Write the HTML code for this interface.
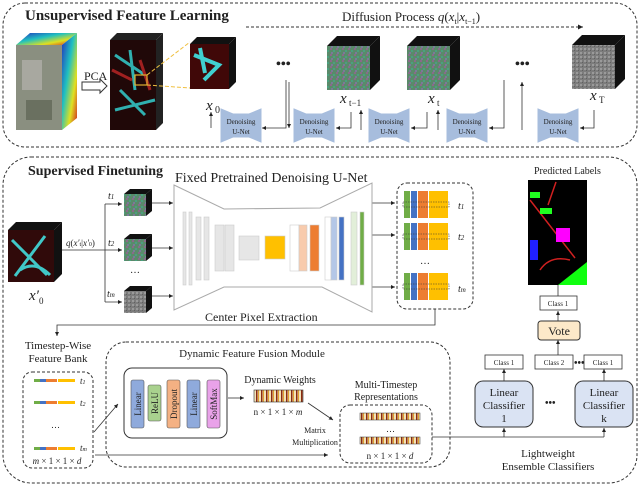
<!DOCTYPE html><html><head><style>body{margin:0;background:#fff}svg{display:block}text{font-family:"Liberation Serif",serif;fill:#222}</style></head><body>
<svg width="640" height="491" viewBox="0 0 640 491" xmlns="http://www.w3.org/2000/svg">
<defs>
<marker id="a" markerWidth="6" markerHeight="6" refX="5" refY="3" orient="auto"><path d="M0,0.5 L5,3 L0,5.5z" fill="#222"/></marker>
<pattern id="noise" width="6" height="6" patternUnits="userSpaceOnUse"><rect width="6" height="6" fill="#5a8a6a"/><rect x="0" y="0" width="2" height="2" fill="#8a6a8a"/><rect x="3" y="2" width="2" height="2" fill="#4aa080"/><rect x="1" y="4" width="2" height="2" fill="#7a7a9a"/></pattern>
<pattern id="gray" width="4" height="4" patternUnits="userSpaceOnUse"><rect width="4" height="4" fill="#7c7c7c"/><rect width="2" height="2" fill="#9a9a9a"/><rect x="2" y="2" width="1" height="1" fill="#606060"/></pattern>
<pattern id="dw" width="5" height="12" patternUnits="userSpaceOnUse"><rect width="5" height="12" fill="#f2e2b8"/><rect x="1" width="1.5" height="12" fill="#8b2a10"/><rect x="3" width="1" height="12" fill="#e0a030"/></pattern>
<linearGradient id="hs" x1="0" y1="0" x2="1" y2="1"><stop offset="0" stop-color="#2030c0"/><stop offset=".4" stop-color="#20c0c0"/><stop offset=".7" stop-color="#e0e020"/><stop offset="1" stop-color="#d02020"/></linearGradient>
</defs>
<g fill="none" stroke="#333" stroke-dasharray="3,2" stroke-width="1">
<rect x="3" y="3" width="634" height="144" rx="22"/>
<rect x="3" y="157" width="634" height="326" rx="28"/>
<rect x="397" y="183" width="76" height="126" rx="10"/>
<rect x="23" y="372" width="70" height="96" rx="9"/>
<rect x="106" y="342" width="344" height="125" rx="20"/>
<rect x="340" y="405" width="92" height="58" rx="10"/>
</g>
<text x="25" y="20" font-size="15" font-weight="bold">Unsupervised Feature Learning</text>
<text x="28" y="175" font-size="14" font-weight="bold">Supervised Finetuning</text>
<!-- hyperspectral cube -->
<polygon points="16,45 30,33 77,33 62,45" fill="url(#hs)"/><polygon points="62,45 77,33 77,118 62,130" fill="url(#hs)"/>
<rect x="16" y="45" width="46" height="85" fill="#8a8f80"/><rect x="22" y="60" width="20" height="30" fill="#a8a8a0"/><rect x="26" y="100" width="26" height="20" fill="#6a7060"/>
<text x="84" y="80" font-size="12">PCA</text>
<path d="M82,82 h18 v-3 l7,7 l-7,7 v-3 h-18z" fill="#fff" stroke="#333"/>
<polygon points="110,40 117,33 163,33 156,40" fill="#222"/><polygon points="156,40 163,33 163,123 156,130" fill="#222"/>
<rect x="110" y="40" width="46" height="90" fill="#200808"/>
<path d="M115,55 l30,20 M120,90 l25,25 M130,50 l5,40 M115,110 l40,-10" stroke="#30b0b0" stroke-width="3"/>
<path d="M112,70 l20,10 M140,60 l10,30" stroke="#a02020" stroke-width="3"/>
<rect x="135" y="75" width="12" height="10" fill="none" stroke="#e0b030" stroke-width="1.2"/>
<path d="M147,75 L190,42 M147,85 L190,88" stroke="#f0c040" stroke-dasharray="4,2"/>
<polygon points="190,44 197,37 236,37 229,44" fill="#111"/><polygon points="229,44 236,37 236,82 229,89" fill="#111"/>
<rect x="190" y="44" width="39" height="45" fill="#400808"/><path d="M194,55 l25,10 l-15,15 M200,48 l5,25" stroke="#40d0d0" stroke-width="4" fill="none"/>
<text x="206" y="110" font-size="15" font-style="italic">x</text><text x="215" y="113" font-size="10">0</text>
<!-- diffusion -->
<text x="342" y="21" font-size="13">Diffusion Process <tspan font-style="italic">q</tspan>(<tspan font-style="italic">x</tspan><tspan font-size="8" dy="3">t</tspan><tspan dy="-3">|</tspan><tspan font-style="italic">x</tspan><tspan font-size="8" dy="3">t−1</tspan><tspan dy="-3">)</tspan></text>
<line x1="246" y1="27" x2="583" y2="27" stroke="#333" stroke-dasharray="3,2" marker-end="url(#a)"/>
<text x="276" y="68" font-size="14" font-weight="bold">•••</text><text x="515" y="68" font-size="14" font-weight="bold">•••</text>
<g>
<polygon points="327,46 337,36 380,36 370,46" fill="#111"/><polygon points="370,46 380,36 380,80 370,90" fill="#111"/><rect x="327" y="46" width="43" height="44" fill="url(#noise)"/>
<polygon points="407,46 417,36 460,36 450,46" fill="#111"/><polygon points="450,46 460,36 460,80 450,90" fill="#111"/><rect x="407" y="46" width="43" height="44" fill="url(#noise)"/>
<polygon points="572,45 582,35 625,35 615,45" fill="#111"/><polygon points="615,45 625,35 625,79 615,89" fill="#111"/><rect x="572" y="45" width="43" height="44" fill="url(#gray)"/>
</g>
<text x="340" y="103" font-size="15" font-style="italic">x</text><text x="349" y="106" font-size="9">t−1</text>
<text x="428" y="103" font-size="15" font-style="italic">x</text><text x="437" y="106" font-size="9">t</text>
<text x="590" y="100" font-size="15" font-style="italic">x</text><text x="599" y="103" font-size="9">T</text>
<g fill="#a7bddd" stroke="#a7bddd">
<polygon points="221,109 233,114 249,114 261,109 261,142 249,137 233,137 221,142"/>
<polygon points="294,109 306,114 322,114 334,109 334,142 322,137 306,137 294,142"/>
<polygon points="369,109 381,114 397,114 409,109 409,142 397,137 381,137 369,142"/>
<polygon points="447,109 459,114 475,114 487,109 487,142 475,137 459,137 447,142"/>
<polygon points="538,109 550,114 566,114 578,109 578,142 566,137 550,137 538,142"/>
</g>
<g font-size="7" text-anchor="middle"><text x="241" y="124">Denoising</text><text x="241" y="134">U-Net</text>
<text x="314" y="124">Denoising</text><text x="314" y="134">U-Net</text>
<text x="389" y="124">Denoising</text><text x="389" y="134">U-Net</text>
<text x="467" y="124">Denoising</text><text x="467" y="134">U-Net</text>
<text x="558" y="124">Denoising</text><text x="558" y="134">U-Net</text></g>
<g fill="none" stroke="#333" stroke-width="0.8" marker-end="url(#a)">
<path d="M211,128 V112"/><path d="M286,80 V128 H262"/><path d="M289,82 V128"/>
<path d="M351,112 V128 H336"/><path d="M361,130 V110"/><path d="M427,112 V128 H411"/><path d="M438,130 V110"/>
<path d="M504,80 V128 H489"/><path d="M522,130 V82"/><path d="M594,110 V128 H580"/>
</g>
<!-- supervised -->
<text x="175" y="182" font-size="14">Fixed Pretrained Denoising U-Net</text>
<polygon points="8,230 16,222 62,222 54,230" fill="#111"/><polygon points="54,230 62,222 62,274 54,282" fill="#111"/>
<rect x="8" y="230" width="46" height="52" fill="#300a0a"/><path d="M12,240 l35,35 M45,236 l-30,40 M20,270 q15,-10 30,5" stroke="#40c8c8" stroke-width="3" fill="none"/>
<text x="29" y="300" font-size="15" font-style="italic">x′</text><text x="39" y="304" font-size="9">0</text>
<text x="66" y="246" font-size="9"><tspan font-style="italic">q</tspan>(<tspan font-style="italic">x′</tspan><tspan font-size="6">t</tspan>|<tspan font-style="italic">x′</tspan><tspan font-size="6">0</tspan>)</text>
<g stroke="#333" fill="none" stroke-width="0.8"><path d="M62,250 H105 M105,204 V302"/><path d="M105,204 H122" marker-end="url(#a)"/><path d="M105,250 H122" marker-end="url(#a)"/><path d="M105,302 H122" marker-end="url(#a)"/>
<path d="M150,203 H173" marker-end="url(#a)"/><path d="M150,248 H173" marker-end="url(#a)"/><path d="M150,296 H173" marker-end="url(#a)"/>
<path d="M372,203 H395" marker-end="url(#a)"/><path d="M372,235 H395" marker-end="url(#a)"/><path d="M372,287 H395" marker-end="url(#a)"/></g>
<text x="108" y="199" font-size="10" font-style="italic">t<tspan font-size="7">1</tspan></text><text x="108" y="246" font-size="10" font-style="italic">t<tspan font-size="7">2</tspan></text>
<text x="130" y="273" font-size="10">…</text><text x="107" y="297" font-size="10" font-style="italic">t<tspan font-size="7">m</tspan></text>
<g>
<polygon points="124,194 130,189 152,189 146,194" fill="#111"/><polygon points="146,194 152,189 152,211 146,216" fill="#111"/><rect x="124" y="194" width="22" height="22" fill="url(#noise)"/>
<polygon points="124,239 130,234 152,234 146,239" fill="#111"/><polygon points="146,239 152,234 152,256 146,261" fill="#111"/><rect x="124" y="239" width="22" height="22" fill="url(#noise)"/>
<polygon points="124,291 130,286 152,286 146,291" fill="#111"/><polygon points="146,291 152,286 152,308 146,313" fill="#111"/><rect x="124" y="291" width="22" height="22" fill="url(#gray)"/>
</g>
<polygon points="174,185 224,209 320,208 372,183 372,312 322,287 224,287 174,310" fill="#fff" stroke="#aaa"/>
<g stroke="#ccc" stroke-width="0.6">
<rect x="183" y="212" width="3" height="73" fill="#e6e6e6"/><rect x="189" y="212" width="3" height="73" fill="#e6e6e6"/>
<rect x="196" y="217" width="5" height="63" fill="#e6e6e6"/><rect x="204" y="217" width="5" height="63" fill="#e6e6e6"/>
<rect x="215" y="225" width="9" height="46" fill="#e6e6e6"/><rect x="225" y="225" width="9" height="46" fill="#e6e6e6"/>
<rect x="239" y="236" width="20" height="24" fill="#e6e6e6"/><rect x="265" y="236" width="20" height="23" fill="#ffc000"/>
<rect x="290" y="225" width="9" height="46" fill="#fff"/><rect x="299" y="225" width="8" height="46" fill="#f8cbad"/><rect x="310" y="225" width="9" height="46" fill="#ed7d31"/>
<rect x="325" y="217" width="6" height="63" fill="#fff"/><rect x="331" y="217" width="6" height="63" fill="#b4c7e7"/><rect x="339" y="217" width="5" height="63" fill="#4472c4"/>
<rect x="351" y="212" width="6" height="73" fill="#e2efd9"/><rect x="360" y="212" width="4" height="73" fill="#70ad47"/>
</g>
<g>
<g id="fb"><rect x="404" y="191" width="6" height="27" fill="#70ad47"/><rect x="411" y="191" width="6" height="27" fill="#4472c4"/><rect x="418" y="191" width="10" height="27" fill="#ed7d31"/><rect x="429" y="191" width="19" height="27" fill="#ffc000"/><rect x="403" y="202" width="46" height="5" fill="none" stroke="#333" stroke-width="0.6" stroke-dasharray="1.5,1"/></g>
<use href="#fb" y="32"/><use href="#fb" y="82"/>
</g>
<text x="458" y="209" font-size="10" font-style="italic">t<tspan font-size="7">1</tspan></text><text x="458" y="240" font-size="10" font-style="italic">t<tspan font-size="7">2</tspan></text><text x="458" y="292" font-size="10" font-style="italic">t<tspan font-size="7">m</tspan></text>
<text x="420" y="264" font-size="10">…</text>
<path d="M435,309 V325 H57 V336" stroke="#333" fill="none" stroke-width="0.8" marker-end="url(#a)"/>
<text x="205" y="321" font-size="12">Center Pixel Extraction</text>
<!-- predicted -->
<text x="534" y="174" font-size="10">Predicted Labels</text>
<rect x="528" y="180" width="59" height="105" fill="#000"/>
<path d="M530,200 L575,258 M556,182 L548,205 M540,270 q10,-15 30,-10" stroke="#d02020" stroke-width="1.5" fill="none"/>
<rect x="556" y="228" width="14" height="14" fill="#ff00ff"/><rect x="540" y="208" width="12" height="6" fill="#20ff20"/><polygon points="558,285 587,262 587,285" fill="#10ff10"/><rect x="530" y="192" width="10" height="6" fill="#20ff20"/><rect x="530" y="240" width="8" height="20" fill="#2020ff"/>
<g stroke="#333" stroke-width="0.8" fill="none"><path d="M558,296 V285"/><path d="M558,321 V311" marker-end="url(#a)"/><path d="M558,355 V340" marker-end="url(#a)"/>
<path d="M504,381 V369" marker-end="url(#a)"/><path d="M604,381 V369" marker-end="url(#a)"/>
<path d="M432,437 H604" /><path d="M504,437 V428" marker-end="url(#a)"/><path d="M604,437 V428" marker-end="url(#a)"/></g>
<rect x="540" y="296" width="37" height="14" fill="#fff" stroke="#333" stroke-width="0.8"/><text x="558" y="306" font-size="7" text-anchor="middle">Class 1</text>
<rect x="538" y="321" width="42" height="19" rx="3" fill="#fde9c9" stroke="#333"/><text x="559" y="335" font-size="12" text-anchor="middle">Vote</text>
<g font-size="7" text-anchor="middle" stroke-width="0.8"><rect x="485" y="355" width="38" height="14" fill="#fff" stroke="#333"/><text x="504" y="365">Class 1</text>
<rect x="535" y="355" width="38" height="14" fill="#fff" stroke="#333"/><text x="554" y="365">Class 2</text>
<rect x="584" y="355" width="38" height="14" fill="#fff" stroke="#333"/><text x="603" y="365">Class 1</text></g>
<text x="574" y="366" font-size="10" font-weight="bold">•••</text><text x="545" y="406" font-size="10" font-weight="bold">•••</text>
<rect x="475" y="381" width="58" height="46" rx="8" fill="#dae3f3" stroke="#333"/><rect x="575" y="381" width="58" height="46" rx="8" fill="#dae3f3" stroke="#333"/>
<g font-size="11" text-anchor="middle"><text x="504" y="396">Linear</text><text x="504" y="409">Classifier</text><text x="504" y="422">1</text>
<text x="604" y="396">Linear</text><text x="604" y="409">Classifier</text><text x="604" y="422">k</text>
<text x="548" y="457">Lightweight</text><text x="548" y="470">Ensemble Classifiers</text>
<text x="58" y="349">Timestep-Wise</text><text x="58" y="362">Feature Bank</text></g>
<!-- feature bank -->
<g id="sb"><rect x="34" y="379" width="6" height="3" fill="#70ad47"/><rect x="40" y="379" width="6" height="3" fill="#4472c4"/><rect x="46" y="379" width="11" height="3" fill="#ed7d31"/><rect x="58" y="379" width="17" height="3" fill="#ffc000"/></g>
<use href="#sb" y="22"/><use href="#sb" y="68"/>
<text x="80" y="384" font-size="9" font-style="italic">t<tspan font-size="6">1</tspan></text><text x="80" y="406" font-size="9" font-style="italic">t<tspan font-size="6">2</tspan></text><text x="80" y="451" font-size="9" font-style="italic">t<tspan font-size="6">m</tspan></text>
<text x="51" y="428" font-size="9">…</text><text x="57" y="464" font-size="9" text-anchor="middle" font-style="italic">m <tspan font-style="normal">× 1 × 1 ×</tspan> d</text>
<text x="252" y="357" font-size="11" text-anchor="middle">Dynamic Feature Fusion Module</text>
<rect x="124" y="368" width="103" height="70" rx="8" fill="#fff" stroke="#333"/>
<g stroke="#555" stroke-width="0.6"><rect x="131" y="380" width="13" height="48" rx="2" fill="#8faadc"/><rect x="148" y="385" width="13" height="36" rx="2" fill="#a9d18e"/><rect x="167" y="380" width="13" height="48" rx="2" fill="#f4b183"/><rect x="187" y="380" width="13" height="48" rx="2" fill="#8faadc"/><rect x="207" y="380" width="13" height="48" rx="2" fill="#e9a2e9"/></g>
<g font-size="9" text-anchor="middle"><text transform="translate(141,404) rotate(-90)">Linear</text><text transform="translate(158,403) rotate(-90)">ReLU</text><text transform="translate(177,404) rotate(-90)">Dropout</text><text transform="translate(197,404) rotate(-90)">Linear</text><text transform="translate(217,404) rotate(-90)">SoftMax</text></g>
<g stroke="#333" stroke-width="0.8" fill="none"><path d="M94,432 L118,404" marker-end="url(#a)"/><path d="M228,398 H244" marker-end="url(#a)"/><path d="M308,403 L333,420" marker-end="url(#a)"/><path d="M95,455 H328" marker-end="url(#a)"/></g>
<text x="280" y="383" font-size="10" text-anchor="middle">Dynamic Weights</text>
<rect x="254" y="390" width="49" height="12" fill="url(#dw)" stroke="#333" stroke-width="0.6"/>
<text x="278" y="415" font-size="9" text-anchor="middle">n × 1 × 1 × <tspan font-style="italic">m</tspan></text>
<text x="386" y="388" font-size="10" text-anchor="middle">Multi-Timestep</text><text x="386" y="400" font-size="10" text-anchor="middle">Representations</text>
<rect x="360" y="413" width="60" height="7" fill="url(#dw)" stroke="#333" stroke-width="0.5"/><rect x="360" y="437" width="60" height="7" fill="url(#dw)" stroke="#333" stroke-width="0.5"/>
<text x="386" y="432" font-size="9">…</text><text x="390" y="459" font-size="9" text-anchor="middle">n × 1 × 1 × <tspan font-style="italic">d</tspan></text>
<text x="315" y="433" font-size="8" text-anchor="middle">Matrix</text><text x="315" y="445" font-size="8" text-anchor="middle">Multiplication</text>
</svg>
</body></html>
